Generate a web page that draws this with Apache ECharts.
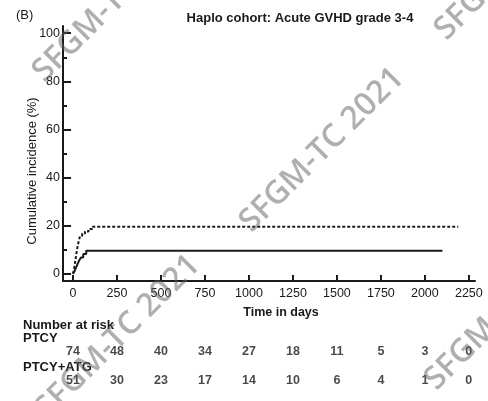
<!DOCTYPE html>
<html>
<head>
<meta charset="utf-8">
<script src="https://cdn.jsdelivr.net/npm/echarts@6/dist/echarts.min.js"></script>
<style>
  html, body { margin: 0; padding: 0; background: #ffffff; }
  #chart { width: 488px; height: 401px; }
</style>
</head>
<body>
<div id="chart"></div>
<script>
// Axis ticks
const xTicks = [0, 250, 500, 750, 1000, 1250, 1500, 1750, 2000, 2250];
const yTicks = [0, 20, 40, 60, 80, 100];
const yMinorTicks = [10, 30, 50, 70, 90];

// Cumulative incidence (%) over time (days)
const ptcyDays = [0, 10, 18, 26, 34, 45, 58, 75, 2100];
const ptcyInc  = [0, 1.4, 2.7, 4.1, 5.4, 6.8, 8.2, 9.6, 9.6];
const atgDays  = [0, 6, 10, 14, 18, 22, 27, 33, 40, 52, 68, 88, 112, 2190];
const atgInc   = [0, 2, 4, 5.9, 7.8, 9.8, 11.8, 13.7, 15.7, 16.7, 17.6, 18.6, 19.6, 19.6];

// Number at risk
const riskTimes = [0, 250, 500, 750, 1000, 1250, 1500, 1750, 2000, 2250];
const riskPTCY  = [74, 48, 40, 34, 27, 18, 11, 5, 3, 0];
const riskATG   = [51, 30, 23, 17, 14, 10, 6, 4, 1, 0];

const FONT = 'Liberation Sans, Arial, sans-serif';
const INK = '#1a1a1a';

const zip = (xs, ys) => xs.map((x, i) => [x, ys[i]]);

const chart = echarts.init(document.getElementById('chart'), null, { renderer: 'canvas' });

// Diagonal watermark stamps
const stamp = (cx, cy) => ({
  type: 'text', x: cx, y: cy, rotation: Math.PI / 4, z: 100, silent: true,
  style: {
    text: 'SFGM-TC 2021', fill: 'rgba(95,95,95,0.5)',
    font: '600 32px "Open Sans", sans-serif', textAlign: 'center', textVerticalAlign: 'middle'
  }
});

const txt = (x, y, text, opts = {}) => ({
  type: 'text', x, y, rotation: opts.rotation || 0,
  style: {
    text, fill: INK, font: (opts.weight || 'normal') + ' ' + (opts.size || 11) + 'px ' + FONT,
    textAlign: opts.align || 'left', textVerticalAlign: 'middle'
  }
});

chart.setOption({
  animation: false,
  backgroundColor: '#ffffff',
  grid: [
    { left: 63, right: 13, top: 26, bottom: 120, containLabel: false },
    { left: 63, right: 13, top: 352, bottom: 20, containLabel: false }
  ],
  xAxis: [
    {
      type: 'value', gridIndex: 0, min: -57, max: 2285,
      axisLine: { show: true, onZero: false, lineStyle: { color: INK, width: 2 } },
      axisTick: { show: true, inside: true, length: 6, customValues: xTicks, lineStyle: { color: INK, width: 2 } },
      axisLabel: { show: true, customValues: xTicks, color: INK, fontSize: 12.5, fontFamily: FONT, margin: 6,
                   formatter: v => String(v) },
      splitLine: { show: false }
    },
    {
      type: 'value', gridIndex: 1, min: -57, max: 2285, show: false
    }
  ],
  yAxis: [
    {
      type: 'value', gridIndex: 0, min: -3, max: 103, position: 'left',
      axisLine: { show: true, onZero: false, lineStyle: { color: INK, width: 2 } },
      axisTick: { show: true, inside: true, length: 8, customValues: yTicks, lineStyle: { color: INK, width: 2 } },
      axisLabel: { show: true, customValues: yTicks, color: INK, fontSize: 12.5, fontFamily: FONT, margin: 3 },
      splitLine: { show: false }
    },
    {
      type: 'value', gridIndex: 0, min: -3, max: 103, position: 'left', offset: 0,
      axisLine: { show: false, onZero: false },
      axisTick: { show: true, inside: true, length: 4, customValues: yMinorTicks, lineStyle: { color: INK, width: 2 } },
      axisLabel: { show: false },
      splitLine: { show: false }
    },
    {
      type: 'value', gridIndex: 1, min: 0, max: 1, show: false
    }
  ],
  series: [
    {
      name: 'PTCY', type: 'line', xAxisIndex: 0, yAxisIndex: 0, step: 'end',
      showSymbol: false, symbol: 'none',
      lineStyle: { color: INK, width: 2 },
      data: zip(ptcyDays, ptcyInc)
    },
    {
      name: 'PTCY+ATG', type: 'line', xAxisIndex: 0, yAxisIndex: 0, step: 'end',
      showSymbol: false, symbol: 'none',
      lineStyle: { color: INK, width: 2, type: [3, 2] },
      data: zip(atgDays, atgInc)
    },
    {
      name: 'risk PTCY', type: 'scatter', xAxisIndex: 1, yAxisIndex: 2,
      symbolSize: 1, itemStyle: { color: 'transparent' },
      label: { show: true, position: 'inside', color: INK, fontSize: 12.5, fontWeight: 'bold', fontFamily: FONT,
               formatter: p => String(p.value[2]) },
      data: riskTimes.map((t, i) => [t, 1, riskPTCY[i]])
    },
    {
      name: 'risk PTCY+ATG', type: 'scatter', xAxisIndex: 1, yAxisIndex: 2,
      symbolSize: 1, itemStyle: { color: 'transparent' },
      label: { show: true, position: 'inside', color: INK, fontSize: 12.5, fontWeight: 'bold', fontFamily: FONT,
               formatter: p => String(p.value[2]) },
      data: riskTimes.map((t, i) => [t, 0, riskATG[i]])
    }
  ],
  graphic: [
    txt(16, 15, '(B)', { size: 13 }),
    txt(300, 18, 'Haplo cohort: Acute GVHD grade 3-4', { size: 13, weight: 'bold', align: 'center' }),
    txt(32, 171, 'Cumulative incidence (%)', { size: 13, align: 'center', rotation: Math.PI / 2 }),
    txt(281, 313, 'Time in days', { size: 12.5, weight: 'bold', align: 'center' }),
    txt(23, 325, 'Number at risk', { size: 13, weight: 'bold' }),
    txt(23, 338, 'PTCY', { size: 13, weight: 'bold' }),
    txt(23, 367, 'PTCY+ATG', { size: 13, weight: 'bold' }),
    stamp(322, 150),
    stamp(118, 337),
    stamp(115, 0),
    stamp(517, -42),
    stamp(507, 308)
  ]
});
</script>
</body>
</html>
